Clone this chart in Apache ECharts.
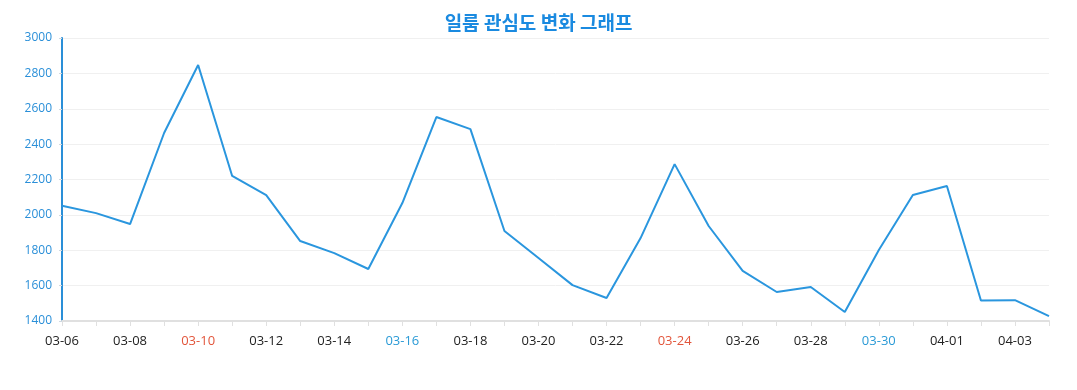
<!DOCTYPE html>
<html><head><meta charset="utf-8">
<script src="https://cdn.jsdelivr.net/npm/echarts@6/dist/echarts.min.js"></script>
<style>html,body{margin:0;padding:0;background:#fff}#c{width:1077px;height:390px}</style>
</head><body><div id="c"></div>
<script>
const titleText = '일룸 관심도 변화 그래프';
const categories = ['03-06','03-07','03-08','03-09','03-10','03-11','03-12','03-13','03-14','03-15','03-16','03-17','03-18','03-19','03-20','03-21','03-22','03-23','03-24','03-25','03-26','03-27','03-28','03-29','03-30','03-31','04-01','04-02','04-03','04-04'];
const values = [2052,2010,1948,2463,2847,2220,2112,1852,1784,1694,2067,2553,2485,1909,1756,1603,1530,1869,2287,1937,1683,1564,1592,1451,1801,2112,2163,1516,1518,1428];
const sundays = ['03-10','03-17','03-24','03-31'];
const saturdays = ['03-09','03-16','03-23','03-30'];

const chart = echarts.init(document.getElementById('c'));
chart.setOption({
  animation: false,
  title: { text: titleText, left: 'center', top: 8,
    textStyle: { color: '#1a8ae0', fontSize: 19, fontWeight: 'bold', fontFamily: 'Noto Sans CJK KR' } },
  grid: { left: 62, right: 28, top: 38, bottom: 69 },
  xAxis: {
    type: 'category', data: categories, boundaryGap: false,
    axisLine: { lineStyle: { color: '#e0e0e0', width: 2 } },
    axisTick: { show: true, interval: 0, lineStyle: { color: '#e0e0e0' } },
    axisLabel: { interval: 1, margin: 14, fontSize: 13, fontFamily: 'Open Sans',
      formatter: function (v) {
        if (sundays.indexOf(v) >= 0) return '{sun|' + v + '}';
        if (saturdays.indexOf(v) >= 0) return '{sat|' + v + '}';
        return '{d|' + v + '}';
      },
      rich: {
        d: { color: '#222', fontSize: 13, fontFamily: 'Open Sans' },
        sun: { color: '#e2553b', fontSize: 13, fontFamily: 'Open Sans' },
        sat: { color: '#2a9ad6', fontSize: 13, fontFamily: 'Open Sans' }
      } },
    splitLine: { show: false }
  },
  yAxis: {
    type: 'value', min: 1400, max: 3000, interval: 200,
    axisLine: { show: true, lineStyle: { color: '#2a8fd8', width: 2 } },
    axisTick: { show: true, length: 3, lineStyle: { color: '#cfd8e0' } },
    axisLabel: { color: '#2a8fd8', fontSize: 12, fontFamily: 'Open Sans', margin: 10,
      formatter: function (v) { return String(v); } },
    splitLine: { lineStyle: { color: '#f0f0f0' } }
  },
  series: [{
    type: 'line', data: values, symbol: 'none',
    lineStyle: { color: '#2a96de', width: 2 }
  }]
});
</script></body></html>
